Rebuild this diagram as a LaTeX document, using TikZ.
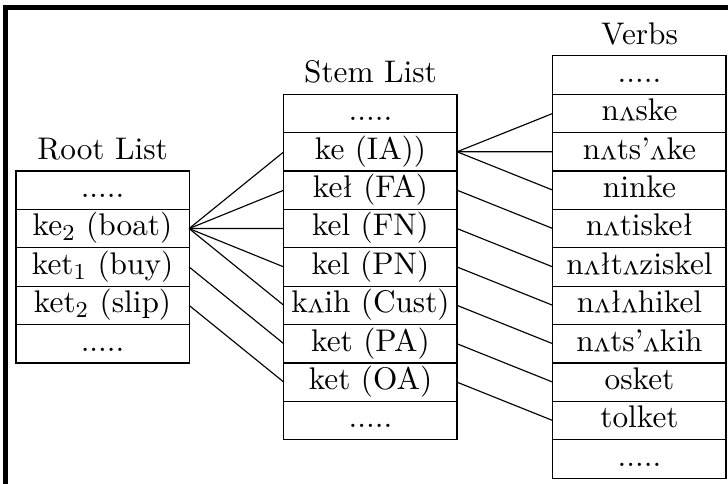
\documentclass[tikz,border=0pt]{standalone}
\usepackage{graphicx}
\usepackage{tikz}
\usetikzlibrary{positioning}
\newcommand{\turnv}{\rotatebox[origin=c]{180}{v}}
\tikzset{
  cell/.style={
    draw=black,
    line width=0.4pt,
    minimum width=2.13cm,
    inner sep=0pt,
    outer sep=0pt,
    text height=9.3pt,
    text depth=4.14pt,
    font=\fontsize{10.95}{13.6}\selectfont
  },
  listtitle/.style={font=\fontsize{10.95}{13.6}\selectfont, inner sep=3.6pt},
  link/.style={line width=0.4pt, draw=black},
  frameline/.style={line width=1.75pt, draw=black}
}

\begin{document}
\begin{tikzpicture}
  \useasboundingbox (0,0) rectangle (8.955,5.953);
  \draw[frameline] (0.068,-0.3) |- (9.3,5.861);

  % root list
  \node[cell,label={[listtitle]above:Root List}] (rdotsa) at (1.261,3.614) {.....};
  \node[cell,below=0pt of rdotsa] (rboat) {ke$_2$ (boat)};
  \node[cell,below=0pt of rboat] (rbuy) {ket$_1$ (buy)};
  \node[cell,below=0pt of rbuy] (rslip) {ket$_2$ (slip)};
  \node[cell,below=0pt of rslip] (rdotsb) {.....};

  % stem list
  \node[cell,label={[listtitle]above:Stem List}] (sdotsa) at (4.557,4.5586) {.....};
  \node[cell,below=0pt of sdotsa] (sia) {ke (IA))};
  \node[cell,below=0pt of sia] (sfa) {keł (FA)};
  \node[cell,below=0pt of sfa] (sfn) {kel (FN)};
  \node[cell,below=0pt of sfn] (spn) {kel (PN)};
  \node[cell,below=0pt of spn] (scust) {k\turnv ih (Cust)};
  \node[cell,below=0pt of scust] (spa) {ket (PA)};
  \node[cell,below=0pt of spa] (soa) {ket (OA)};
  \node[cell,below=0pt of soa] (sdotsb) {.....};

  % verbs
  \node[cell,label={[listtitle]above:Verbs}] (vdotsa) at (7.866,5.0309) {.....};
  \node[cell,below=0pt of vdotsa] (vnaske) {n\turnv ske};
  \node[cell,below=0pt of vnaske] (vnatsake) {n\turnv ts'\turnv ke};
  \node[cell,below=0pt of vnatsake] (vninke) {ninke};
  \node[cell,below=0pt of vninke] (vnatiskel) {n\turnv tiskeł};
  \node[cell,below=0pt of vnatiskel] (vnaltaziskel) {n\turnv łt\turnv ziskel};
  \node[cell,below=0pt of vnaltaziskel] (vnalahikel) {n\turnv ł\turnv hikel};
  \node[cell,below=0pt of vnalahikel] (vnatsakih) {n\turnv ts'\turnv kih};
  \node[cell,below=0pt of vnatsakih] (vosket) {osket};
  \node[cell,below=0pt of vosket] (vtolket) {tolket};
  \node[cell,below=0pt of vtolket] (vdotsb) {.....};

  \draw[link] (rboat.east) -- (sia.west);
  \draw[link] (rboat.east) -- (sfa.west);
  \draw[link] (rboat.east) -- (sfn.west);
  \draw[link] (rboat.east) -- (spn.west);
  \draw[link] (rboat.east) -- (scust.west);
  \draw[link] (rbuy.east) -- (spa.west);
  \draw[link] (rslip.east) -- (soa.west);

  \draw[link] (sia.east) -- (vnaske.west);
  \draw[link] (sia.east) -- (vnatsake.west);
  \draw[link] (sia.east) -- (vninke.west);
  \draw[link] (sfa.east) -- (vnatiskel.west);
  \draw[link] (sfn.east) -- (vnaltaziskel.west);
  \draw[link] (spn.east) -- (vnalahikel.west);
  \draw[link] (scust.east) -- (vnatsakih.west);
  \draw[link] (spa.east) -- (vosket.west);
  \draw[link] (soa.east) -- (vtolket.west);
\end{tikzpicture}
\end{document}
